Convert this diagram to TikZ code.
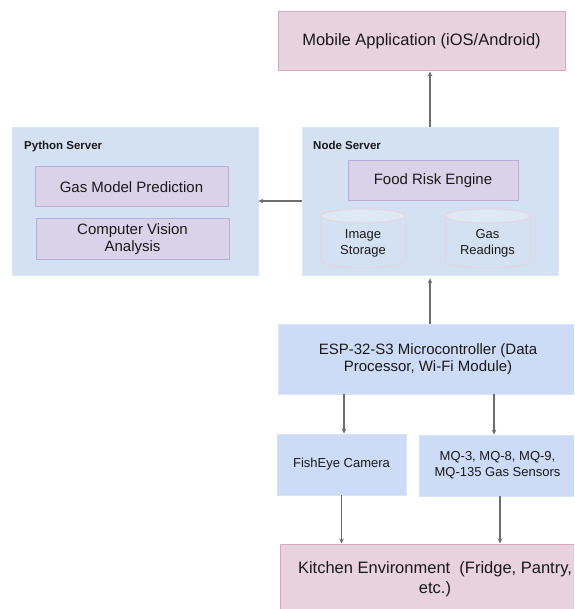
\documentclass[tikz,border=0pt]{standalone}
\usepackage{fontspec}
\setmainfont{Liberation Sans}
\usetikzlibrary{arrows.meta}
\definecolor{srvfill}{HTML}{D4E1F2}
\definecolor{srvline}{HTML}{DCE6F4}
\definecolor{espfill}{HTML}{CCDBF6}
\definecolor{espline}{HTML}{D8E3F8}
\definecolor{purfill}{HTML}{D9D2E9}
\definecolor{purline}{HTML}{B9ADD9}
\definecolor{pinkfill}{HTML}{E8D2DD}
\definecolor{pinkline}{HTML}{D7A9BF}
\definecolor{cylbody}{HTML}{D4E1F2}
\definecolor{cyltop}{HTML}{DFE8F5}
\definecolor{cylline}{HTML}{E2D6E6}
\definecolor{arrcol}{HTML}{6E6E6E}
\definecolor{txt}{HTML}{1A1A1A}
\begin{document}
\begin{tikzpicture}[x=1pt,y=1pt,
  box/.style={rectangle,inner sep=0pt,align=center,text=txt},
  server/.style={box,fill=srvfill,draw=srvline,line width=0.8pt},
  purbox/.style={box,fill=purfill,draw=purline,line width=1pt,font=\fontsize{15}{17}\selectfont},
  pinkbox/.style={box,fill=pinkfill,draw=pinkline,line width=1pt,font=\fontsize{16.5}{20}\selectfont},
  espbox/.style={box,fill=espfill,draw=espline,line width=0.8pt},
  lbl/.style={inner sep=0pt,anchor=west,font=\bfseries\fontsize{11.5}{13}\selectfont,text=txt},
  cyltext/.style={inner sep=0pt,align=center,text=txt,font=\fontsize{13}{16}\selectfont},
  arr/.style={draw=arrcol,line width=1.1pt,-{Stealth[length=5pt,width=4.5pt]}}]
\path[use as bounding box,clip] (0,0) rectangle (574,-609);
\fill[white] (0,0) rectangle (574,-609);
% top
\node[pinkbox,minimum width=287,minimum height=59] (mobile) at (421.5,-41.5) {Mobile Application (iOS/Android)};
% servers
\node[server,minimum width=246,minimum height=148] (python) at (135,-201) {};
\node[server,minimum width=256,minimum height=148] (nodesrv) at (430,-201) {};
\node[lbl] (pylabel) at (24,-147) {Python Server};
\node[lbl] (nodelabel) at (313,-145) {Node Server};
\node[purbox,minimum width=193,minimum height=40] (gasmodel) at (131.5,-187) {Gas Model Prediction};
\node[purbox,minimum width=193,minimum height=40] (cv) at (132.5,-239) {Computer Vision\\Analysis};
\node[purbox,minimum width=170,minimum height=40] (food) at (433,-181) {Food Risk Engine};
% cylinders
\foreach \cx/\rx in {363/42,487.5/42.5}{
  \path[fill=cylbody,draw=cylline,line width=1pt]
    (\cx-\rx,-216) -- (\cx-\rx,-261)
    arc[start angle=180,end angle=360,x radius=\rx,y radius=7]
    -- (\cx+\rx,-216)
    arc[start angle=0,end angle=180,x radius=\rx,y radius=7] -- cycle;
  \path[fill=cyltop,draw=cylline,line width=1pt] (\cx,-216) ellipse[x radius=\rx,y radius=7];
}
\node[cyltext] (imgst) at (363,-243) {Image\\Storage};
\node[cyltext] (gasread) at (487.5,-243) {Gas\\Readings};
% lower part
\node[espbox,minimum width=300,minimum height=70,font=\fontsize{15}{17.5}\selectfont] (esp) at (428,-359) {ESP-32-S3 Microcontroller (Data\\Processor, Wi-Fi Module)};
\node[espbox,minimum width=129,minimum height=61,font=\fontsize{13}{16}\selectfont] (fish) at (341.5,-464.5) {FishEye Camera};
\node[espbox,minimum width=157,minimum height=61,font=\fontsize{13}{16}\selectfont] (mq) at (497.5,-465.5) {MQ-3, MQ-8, MQ-9,\\MQ-135 Gas Sensors};
\node[pinkbox,minimum width=310,minimum height=70] (kitchen) at (435,-579) {Kitchen Environment\ \ (Fridge, Pantry,\\etc.)};
% connectors
\draw[arr] (nodesrv.north) -- (nodesrv.north |- mobile.south);
\draw[arr] (nodesrv.west) -- (python.east);
\draw[arr,shorten >=3pt] (esp.north -| nodesrv.south) -- (nodesrv.south);
\draw[arr] ([xshift=2.5pt]fish.north |- esp.south) -- ([xshift=2.5pt]fish.north);
\draw[arr] ([xshift=-3.5pt]mq.north |- esp.south) -- ([xshift=-3.5pt]mq.north);
\draw[arr] (fish.south) -- (fish.south |- kitchen.north);
\draw[arr] ([xshift=2.5pt]mq.south) -- ([xshift=2.5pt]mq.south |- kitchen.north);
\end{tikzpicture}
\end{document}
